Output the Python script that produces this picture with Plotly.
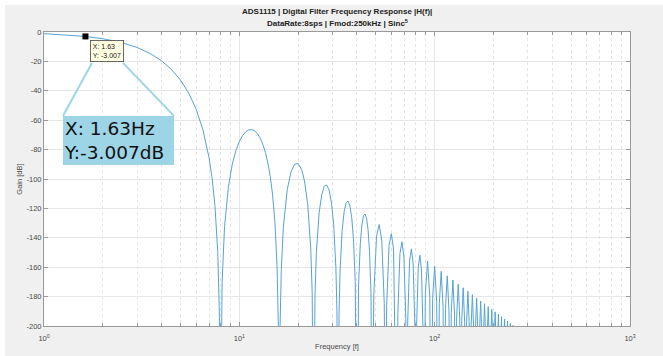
import math
import plotly.graph_objects as go

# ---------------- data ----------------
freq_hz = [
    1, 1.25, 1.5, 1.63, 2, 2.5, 3, 3.5, 4, 4.5, 5, 5.5, 6, 6.5, 7, 7.25, 7.5, 7.75, 7.9, 8,
    8.16, 8.4, 8.8, 9.2, 9.6, 10.0, 10.4, 10.8, 11.2, 11.6, 12.0, 12.4, 12.8, 13.2, 13.6, 14.0,
    14.4, 14.8, 15.2, 15.6, 15.84, 16,
    16.16, 16.4, 16.8, 17.2, 17.6, 18.4, 18.8, 19.2, 20, 20.8, 21.2, 21.6, 22.4, 22.8, 23.2, 23.6, 24,
    24.4, 24.8, 25.6, 26.4, 27.2, 28, 28.8, 29.6, 30.4, 31.2, 31.6, 32,
    32.4, 32.8, 33.6, 34.4, 35.2, 36, 36.8, 37.6, 38.4, 39.2, 40,
    40.8, 41.6, 42.4, 43.2, 44, 44.8, 45.6, 46.4, 47.2, 48,
    48.8, 50.4, 52, 53.6, 55.2, 56,
    56.8, 58.4, 60, 61.6, 63.2, 64,
    64.8, 66.4, 68, 69.6, 71.2, 72,
    72.8, 74.4, 76, 77.6, 79.2, 80,
    80.8, 82.4, 84, 85.6, 87.2, 88,
    89.6, 92, 94.4, 96,
    97.6, 100, 102.4, 104,
    105.6, 108, 110.4, 112,
    113.6, 116, 118.4, 120,
    121.6, 124, 126.4, 128,
    129.6, 132, 134.4, 136,
    137.6, 140, 142.4, 144,
    145.6, 148, 150.4, 152,
    153.6, 156, 158.4, 160,
    161.6, 164, 166.4, 168,
    169.6, 172, 174.4, 176,
    177.6, 180, 182.4, 184,
    185.6, 188, 190.4, 192,
    193.6, 196, 198.4, 200,
    201.6, 204, 206.4, 208,
    209.6, 212, 214.4, 216,
    217.6, 220, 222.4, 224,
    225.6, 228, 230.4, 232,
    233.6, 236, 238.4, 240,
    241.6, 244, 246.4, 248,
    252, 256,
]
gain_db = [
    -1.12, -1.76, -2.54, -3.007, -4.56, -7.22, -10.56, -14.66, -19.61, -25.57, -32.74, -41.46,
    -52.27, -66.22, -85.63, -99.16, -117.89, -149.2, -189.8, -300,
    -170.8, -132.4, -104.9, -90.1, -80.7, -74.5, -70.3, -67.8, -66.5, -66.4, -67.3, -69.3, -72.3,
    -76.5, -82.0, -89.1, -98.3, -110.7, -128.6, -159.3, -199.6, -300,
    -200.5, -161.5, -132.9, -117.3, -107.0, -95.1, -91.8, -89.9, -89.5, -93.4, -97.1, -102.1,
    -117.5, -129.5, -147.0, -177.3, -300,
    -178.8, -149.9, -123.3, -110.8, -105.0, -104.1, -107.5, -115.7, -130.8, -159.8, -190.0, -300,
    -191.1, -162.0, -135.1, -122.3, -116.2, -115.0, -118.2, -126.1, -140.9, -169.7, -300,
    -171.5, -144.4, -131.3, -125.1, -123.8, -126.7, -134.5, -149.1, -177.8, -300,
    -179.3, -138.9, -131.0, -141.5, -184.6, -300,
    -185.8, -145.3, -137.2, -147.6, -190.5, -300,
    -191.6, -150.8, -142.7, -152.9, -195.7, -300,
    -196.6, -155.8, -147.5, -157.6, -200.3, -300,
    -201.2, -160.2, -151.8, -161.9, -204.5, -300,
    -177.7, -155.8, -180.0, -300,
    -181.4, -159.4, -183.5, -300,
    -184.9, -162.8, -186.8, -300,
    -188.0, -165.9, -189.8, -300,
    -191.0, -168.8, -192.7, -300,
    -193.8, -171.5, -195.3, -300,
    -196.4, -174.0, -197.8, -300,
    -198.8, -176.4, -200.2, -300,
    -201.1, -178.7, -202.5, -300,
    -203.3, -180.9, -204.6, -300,
    -205.4, -183.0, -206.6, -300,
    -207.4, -184.9, -208.6, -300,
    -209.3, -186.8, -210.5, -300,
    -211.2, -188.6, -212.2, -300,
    -212.9, -190.4, -214.0, -300,
    -214.6, -192.0, -215.6, -300,
    -216.3, -193.7, -217.2, -300,
    -217.8, -195.2, -218.7, -300,
    -219.3, -196.7, -220.2, -300,
    -220.8, -198.2, -221.7, -300,
    -199.6, -300,
]

tip_x = 1.63
tip_y = -3.007

x_major = [1, 10, 100, 1000]
x_major_text = ["10<sup>0</sup>", "10<sup>1</sup>", "10<sup>2</sup>", "10<sup>3</sup>"]
x_minor = [2, 3, 4, 5, 6, 7, 8, 9, 20, 30, 40, 50, 60, 70, 80, 90,
           200, 300, 400, 500, 600, 700, 800, 900]
y_ticks = [0, -20, -40, -60, -80, -100, -120, -140, -160, -180, -200]
y_tick_text = ["0", "-20", "-40", "-60", "-80", "-100", "-120", "-140", "-160", "-180", "-200"]

title_1 = "ADS1115 | Digital Filter Frequency Response |H(f)|"
title_2 = "DataRate:8sps | Fmod:250kHz | Sinc<sup>5</sup>"

# ---------------- styling ----------------
W, H = 663, 356
ML, MR, MT, MB = 44, 33, 32, 30
PW, PH = W - ML - MR, H - MT - MB
FONT = "Liberation Sans, Arial, sans-serif"
AXC = "#9a9a9a"
GRID = "#e6e6e6"
LINE = "#55a3d8"
CALLOUT = "#9dd5e7"
TXT = "#4a4a4a"

fig = go.Figure()
fig.add_trace(go.Scatter(x=freq_hz, y=gain_db, mode="lines",
                         line=dict(color=LINE, width=1), hoverinfo="skip"))
fig.add_trace(go.Scatter(x=[tip_x], y=[tip_y], mode="markers",
                         marker=dict(symbol="square", size=6, color="black"),
                         hoverinfo="skip"))

tip_lx = math.log10(tip_x)  # annotations on a log axis take log10 positions

# callout connector lines, pixel offsets anchored at the data tip
fig.add_shape(type="path", xref="x", yref="y",
              xsizemode="pixel", ysizemode="pixel",
              xanchor=tip_x, yanchor=tip_y,
              path="M 6.5 -26.5 L -22.5 -79.5 M 37.5 -26.5 L 88.5 -79.5",
              line=dict(color=CALLOUT, width=2), layer="above")

# small MATLAB-style data tip
fig.add_annotation(x=tip_lx, y=tip_y, xref="x", yref="y",
                   text=f"X: {tip_x}<br>Y: {tip_y}", showarrow=False,
                   xanchor="left", yanchor="top", xshift=4.5, yshift=-3.5,
                   align="left", font=dict(family=FONT, size=7, color="#222"),
                   bgcolor="#ffffe1", bordercolor="#444", borderwidth=0.8, borderpad=2)

# large callout box
fig.add_annotation(x=tip_lx, y=tip_y, xref="x", yref="y",
                   text=f"X: {tip_x}Hz<br>Y:{tip_y}dB", showarrow=False,
                   xanchor="left", yanchor="top", xshift=-22.5, yshift=-79.5,
                   align="left", width=109, height=47,
                   font=dict(family="DejaVu Sans, Verdana, sans-serif", size=18.5, color="#111"),
                   bgcolor=CALLOUT, borderwidth=0, borderpad=1)

# two-line bold title
fig.add_annotation(x=0.5, y=1, xref="paper", yref="paper", showarrow=False,
                   text=f"<b>{title_1}</b>", xanchor="center", yanchor="middle",
                   yshift=21, font=dict(family=FONT, size=8, color="#222"))
fig.add_annotation(x=0.5, y=1, xref="paper", yref="paper", showarrow=False,
                   text=f"<b>{title_2}</b>", xanchor="center", yanchor="middle",
                   yshift=9, font=dict(family=FONT, size=8, color="#222"))

# white edge strips around the grey figure background
fig.add_shape(type="rect", xref="paper", yref="paper", layer="below",
              x0=-ML / PW, x1=(W - ML) / PW, y0=1 + (MT - 5) / PH, y1=1 + MT / PH,
              fillcolor="white", line=dict(width=0))
fig.add_shape(type="rect", xref="paper", yref="paper", layer="below",
              x0=-ML / PW, x1=-(ML - 5) / PW, y0=-MB / PH, y1=1 + MT / PH,
              fillcolor="white", line=dict(width=0))

fig.update_layout(
    width=W, height=H,
    margin=dict(l=ML, r=MR, t=MT, b=MB, autoexpand=False),
    paper_bgcolor="#f0f0f0", plot_bgcolor="white",
    showlegend=False,
    font=dict(family=FONT, size=7.5, color=TXT),
    xaxis=dict(type="log", range=[0, 3], automargin=False,
               tickmode="array", tickvals=x_major, ticktext=x_major_text,
               ticks="inside", ticklen=4, tickcolor=AXC, ticklabelstandoff=5,
               showline=True, linecolor=AXC, linewidth=1, mirror="ticks",
               showgrid=True, gridcolor=GRID, gridwidth=1,
               zeroline=False,
               minor=dict(tickmode="array", tickvals=x_minor, ticks="inside",
                          ticklen=3, tickcolor=AXC, showgrid=True,
                          gridcolor="#e4e4e4", griddash="dot", gridwidth=1),
               title=dict(text="Frequency [f]", standoff=1,
                          font=dict(family=FONT, size=7.5, color=TXT))),
    yaxis=dict(range=[-200, 0], automargin=False,
               tickmode="array", tickvals=y_ticks, ticktext=y_tick_text,
               ticks="inside", ticklen=4, tickcolor=AXC,
               showline=True, linecolor=AXC, linewidth=1, mirror="ticks",
               showgrid=True, gridcolor=GRID, gridwidth=1,
               zeroline=False,
               title=dict(text="Gain [dB]", standoff=2,
                          font=dict(family=FONT, size=7.5, color=TXT))),
)

fig.write_html("out.html")
